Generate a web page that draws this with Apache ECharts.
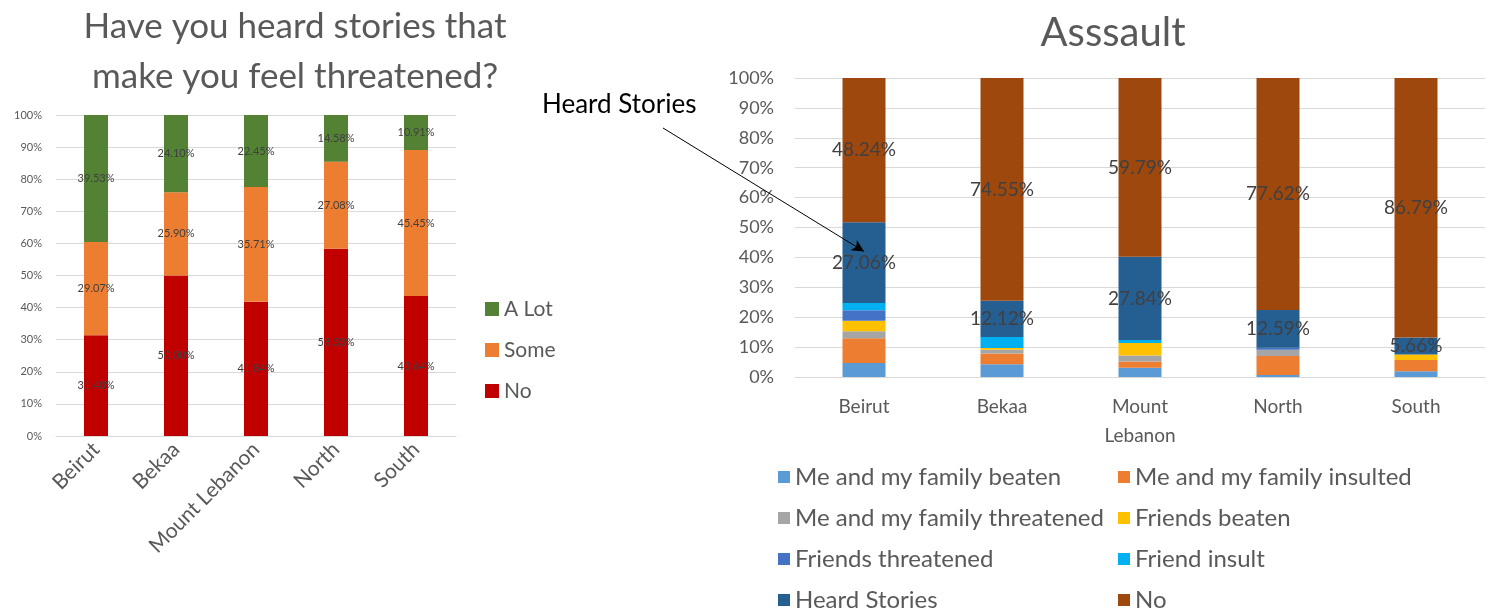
<!DOCTYPE html>
<html>
<head>
<meta charset="utf-8">
<script src="https://cdn.jsdelivr.net/npm/echarts@6/dist/echarts.min.js"></script>
<style>
  html, body { margin: 0; padding: 0; background: #fff; }
  #chart { width: 1486px; height: 612px; }
</style>
</head>
<body>
<div id="chart"></div>
<script>
// left chart: heard stories
const regions = ['Beirut', 'Bekaa', 'Mount Lebanon', 'North', 'South']
const heardNo = [31.40, 50.00, 41.84, 58.33, 43.64]
const heardSome = [29.07, 25.90, 35.71, 27.08, 45.45]
const heardALot = [39.53, 24.10, 22.45, 14.58, 10.91]

// right chart: assault
const assaultRegions = ['Beirut', 'Bekaa', 'Mount\nLebanon', 'North', 'South']
const familyBeaten = [4.71, 4.24, 3.09, 0.70, 1.89]
const familyInsulted = [8.24, 3.64, 2.06, 6.29, 3.77]
const familyThreatened = [2.35, 1.21, 2.06, 2.10, 0]
const friendsBeaten = [3.53, 0.61, 4.12, 0, 1.89]
const friendsThreatened = [3.53, 0, 0, 0.70, 0]
const friendInsult = [2.35, 3.64, 1.03, 0, 0]
const heardStories = [27.06, 12.12, 27.84, 12.59, 5.66]
const assaultNo = [48.24, 74.55, 59.79, 77.62, 86.79]

const yTicks = [0, 10, 20, 30, 40, 50, 60, 70, 80, 90, 100]

const font = 'Lato, "Open Sans", sans-serif'
const grey = '#595959'
const pct = p => p.value.toFixed(2) + '%'

function leftBar(name, data, color) {
  return {
    name, type: 'bar', stack: 'heard', data,
    xAxisIndex: 0, yAxisIndex: 0,
    barWidth: 24,
    itemStyle: { color },
    label: { show: true, position: 'inside', formatter: pct, fontSize: 11, color: '#404040', fontFamily: font }
  }
}

function rightBar(name, data, color, withLabel) {
  return {
    name, type: 'bar', stack: 'assault', data,
    xAxisIndex: 1, yAxisIndex: 1,
    barWidth: 43,
    itemStyle: { color },
    label: { show: !!withLabel, position: 'inside', formatter: pct, fontSize: 19, color: '#404040', fontFamily: font }
  }
}

const chart = echarts.init(document.getElementById('chart'))

const heardSeries = rightBar('Heard Stories', heardStories, '#255E91', true)
// annotation arrow pointing at Beirut heard stories
heardSeries.markLine = {
  silent: true,
  symbol: ['none', 'arrow'],
  symbolSize: [9, 12],
  label: { show: false },
  lineStyle: { color: '#000', width: 1, type: 'solid' },
  data: [[{ x: 663, y: 128 }, { coord: ['Beirut', 42] }]]
}

const legendText = { fontSize: 24, color: grey, fontFamily: font, lineHeight: 24 }

const option = {
  animation: false,
  textStyle: { fontFamily: font },
  title: [
    {
      text: 'Have you heard stories that\nmake you feel threatened?',
      left: 290, top: -3, textAlign: 'center',
      textStyle: { fontSize: 35, fontWeight: 'normal', color: grey, lineHeight: 50, fontFamily: font }
    },
    {
      text: 'Asssault',
      left: 1108, top: 8, textAlign: 'center',
      textStyle: { fontSize: 40, fontWeight: 'normal', color: grey, fontFamily: font }
    }
  ],
  graphic: [
    { type: 'text', left: 542, top: 92, style: { text: 'Heard Stories', fontSize: 26, fill: '#000', fontFamily: font } }
  ],
  legend: [
    {
      orient: 'vertical', left: 485, top: 298, padding: 0,
      data: ['A Lot', 'Some', 'No'],
      icon: 'rect', itemWidth: 14, itemHeight: 14, itemGap: 19,
      textStyle: { fontSize: 21, color: grey, fontFamily: font, lineHeight: 22 }
    },
    {
      orient: 'vertical', left: 778, bottom: 0, padding: 0,
      data: ['Me and my family beaten', 'Me and my family threatened', 'Friends threatened', 'Heard Stories'],
      icon: 'rect', itemWidth: 12, itemHeight: 12, itemGap: 17,
      textStyle: legendText
    },
    {
      orient: 'vertical', left: 1118, bottom: 0, padding: 0,
      data: ['Me and my family insulted', 'Friends beaten', 'Friend insult', 'No '],
      icon: 'rect', itemWidth: 12, itemHeight: 12, itemGap: 17,
      formatter: n => n.trim(),
      textStyle: legendText
    }
  ],
  grid: [
    { left: 56, top: 115, width: 400, height: 321 },
    { left: 795, top: 78, width: 690, height: 299 }
  ],
  xAxis: [
    {
      type: 'category', gridIndex: 0, data: regions,
      axisLine: { lineStyle: { color: '#d9d9d9' } },
      axisTick: { show: false },
      axisLabel: { rotate: 45, fontSize: 21, color: grey, margin: 10, interval: 0 }
    },
    {
      type: 'category', gridIndex: 1, data: assaultRegions,
      axisLine: { lineStyle: { color: '#d9d9d9' } },
      axisTick: { show: false },
      axisLabel: { fontSize: 19, color: grey, margin: 15, lineHeight: 29, interval: 0 }
    }
  ],
  yAxis: [
    {
      type: 'value', gridIndex: 0, min: yTicks[0], max: yTicks[yTicks.length - 1], interval: 10,
      axisLabel: { formatter: '{value}%', fontSize: 11, color: grey, margin: 14 },
      splitLine: { lineStyle: { color: '#d9d9d9' } }
    },
    {
      type: 'value', gridIndex: 1, min: yTicks[0], max: yTicks[yTicks.length - 1], interval: 10,
      axisLabel: { formatter: '{value}%', fontSize: 18, color: grey, margin: 21 },
      splitLine: { lineStyle: { color: '#d9d9d9' } }
    }
  ],
  series: [
    leftBar('No', heardNo, '#C00000'),
    leftBar('Some', heardSome, '#ED7D31'),
    leftBar('A Lot', heardALot, '#548235'),
    rightBar('Me and my family beaten', familyBeaten, '#5B9BD5'),
    rightBar('Me and my family insulted', familyInsulted, '#ED7D31'),
    rightBar('Me and my family threatened', familyThreatened, '#A5A5A5'),
    rightBar('Friends beaten', friendsBeaten, '#FFC000'),
    rightBar('Friends threatened', friendsThreatened, '#4472C4'),
    rightBar('Friend insult', friendInsult, '#00B0F0'),
    heardSeries,
    rightBar('No ', assaultNo, '#9E480E', true)
  ]
}

chart.setOption(option)
</script>
</body>
</html>
